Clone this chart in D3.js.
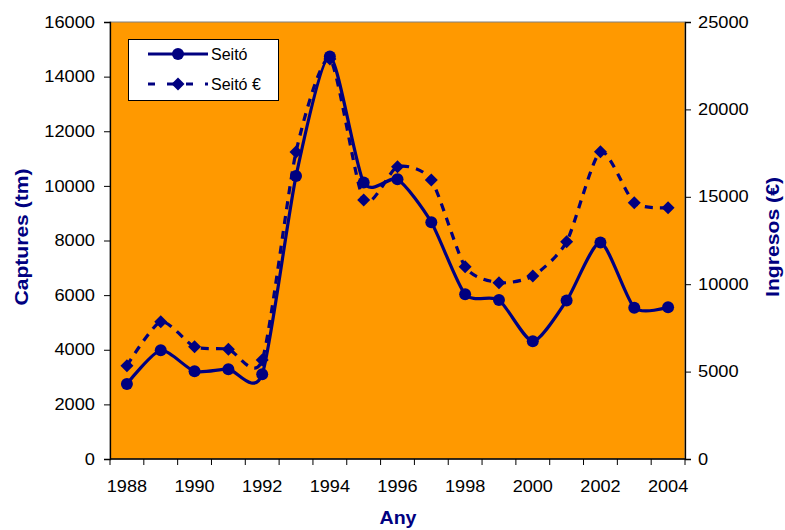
<!DOCTYPE html>
<html><head><meta charset="utf-8">
<script src="https://cdn.jsdelivr.net/npm/d3@7/dist/d3.min.js"></script>
<style>
body{margin:0;background:#fff;}
text{font-family:Arial,"Liberation Sans",sans-serif;}
</style></head>
<body><svg id="c" width="785" height="530"></svg>
<script>
const years = ["1988","1989","1990","1991","1992","1993","1994","1995","1996","1997","1998","1999","2000","2001","2002","2003","2004"];
const captures = [2750,3980,3210,3290,3100,10360,14740,10120,10240,8670,6030,5820,4310,5800,7930,5540,5560];
const ingresos = [5340,7850,6420,6280,5670,17570,22880,14820,16720,15960,11000,10090,10470,12430,17580,14660,14380];
const leftTicks = [0,2000,4000,6000,8000,10000,12000,14000,16000];
const rightTicks = [0,5000,10000,15000,20000,25000];
const labelYears = ["1988","1990","1992","1994","1996","1998","2000","2002","2004"];
const seriesNames = ["Seitó","Seitó €"];

const navy = "#000080", orange = "#FF9900";
const L = 110, R = 685, T = 22, B = 459;
const svg = d3.select("#c");

const x = d3.scaleBand().domain(years).range([L, R]).padding(0);
const yL = d3.scaleLinear().domain([0,16000]).range([B, T]);
const yR = d3.scaleLinear().domain([0,25000]).range([B, T]);
const cx = d => x(d) + x.bandwidth()/2;

function stretch(sel, f){
  sel.each(function(){
    const w = this.getComputedTextLength();
    d3.select(this).attr("textLength", w*f).attr("lengthAdjust","spacingAndGlyphs");
  });
}

svg.append("rect").attr("x",L).attr("y",T).attr("width",R-L).attr("height",B-T)
  .attr("fill",orange).attr("stroke","#808080").attr("stroke-width",1);

const ga = svg.append("g").attr("transform",`translate(${L},0)`)
  .call(d3.axisLeft(yL).tickValues(leftTicks).tickSize(6).tickPadding(9).tickFormat(d3.format("d")));
const gr = svg.append("g").attr("transform",`translate(${R},0)`)
  .call(d3.axisRight(yR).tickValues(rightTicks).tickSize(6).tickPadding(7).tickFormat(d3.format("d")));

const bnd = years.map(d => x(d)).concat([R]);
const gb = svg.append("g");
gb.append("line").attr("x1",L).attr("x2",R).attr("y1",B).attr("y2",B).attr("stroke","#000").attr("stroke-width",1.3);
gb.selectAll("line.t").data(bnd).enter().append("line").attr("class","t")
  .attr("x1",d=>d).attr("x2",d=>d).attr("y1",B).attr("y2",B+6).attr("stroke","#000");
const bt = gb.selectAll("text").data(labelYears).enter().append("text")
  .attr("x",d=>cx(d)).attr("y",492).attr("text-anchor","middle")
  .attr("font-size",16).attr("fill","#000").text(d=>d);
stretch(bt, 1.13);

[ga,gr].forEach(g=>{
  g.select(".domain").attr("stroke","#000").attr("stroke-width",1.3);
  g.selectAll(".tick line").attr("stroke","#000");
  g.selectAll(".tick text").attr("font-size",16).attr("fill","#000").attr("font-family",'Arial,"Liberation Sans",sans-serif');
  stretch(g.selectAll(".tick text"), 1.14);
});

const t1 = svg.append("text").attr("transform","translate(28,237) rotate(-90)").attr("text-anchor","middle")
  .attr("font-size",18).attr("font-weight","bold").attr("fill",navy).text("Captures (tm)");
const t2 = svg.append("text").attr("transform","translate(779,237) rotate(-90)").attr("text-anchor","middle")
  .attr("font-size",18).attr("font-weight","bold").attr("fill",navy).text("Ingresos (€)");
const t3 = svg.append("text").attr("x",398).attr("y",524).attr("text-anchor","middle")
  .attr("font-size",18).attr("font-weight","bold").attr("fill",navy).text("Any");
t1.attr("textLength",137).attr("lengthAdjust","spacingAndGlyphs");
t2.attr("textLength",120).attr("lengthAdjust","spacingAndGlyphs");
t3.attr("textLength",37).attr("lengthAdjust","spacingAndGlyphs");

const curve = d3.curveCardinal.tension(0.3);
const lineL = d3.line().x((d,i)=>cx(years[i])).y(d=>yL(d)).curve(curve);
const lineR = d3.line().x((d,i)=>cx(years[i])).y(d=>yR(d)).curve(curve);
const diamond = (px,py,r) => `M${px},${py-r}L${px+r},${py}L${px},${py+r}L${px-r},${py}Z`;

svg.append("path").attr("d",lineR(ingresos)).attr("fill","none").attr("stroke",navy)
  .attr("stroke-width",3.2).attr("stroke-dasharray","8,7");
svg.selectAll("path.dm").data(ingresos).enter().append("path").attr("class","dm")
  .attr("d",(d,i)=>diamond(cx(years[i]),yR(d),6.5)).attr("fill",navy);

svg.append("path").attr("d",lineL(captures)).attr("fill","none").attr("stroke",navy).attr("stroke-width",3.2);
svg.selectAll("circle.pt").data(captures).enter().append("circle").attr("class","pt")
  .attr("cx",(d,i)=>cx(years[i])).attr("cy",d=>yL(d)).attr("r",6).attr("fill",navy);

const lg = svg.append("g");
lg.append("rect").attr("x",128.5).attr("y",39.5).attr("width",150).attr("height",61)
  .attr("fill","#fff").attr("stroke","#000").attr("stroke-width",1);
lg.append("line").attr("x1",148).attr("x2",208).attr("y1",54).attr("y2",54).attr("stroke",navy).attr("stroke-width",3.2);
lg.append("circle").attr("cx",178).attr("cy",54).attr("r",6).attr("fill",navy);
lg.append("line").attr("x1",148).attr("x2",208).attr("y1",84).attr("y2",84).attr("stroke",navy).attr("stroke-width",3.2).attr("stroke-dasharray","7,12");
lg.append("path").attr("d",diamond(178,84,6.5)).attr("fill",navy);
lg.selectAll("text").data(seriesNames).enter().append("text")
  .attr("x",211).attr("y",(d,i)=>60+i*30).attr("font-size",16).attr("fill","#000").text(d=>d);
</script></body></html>
